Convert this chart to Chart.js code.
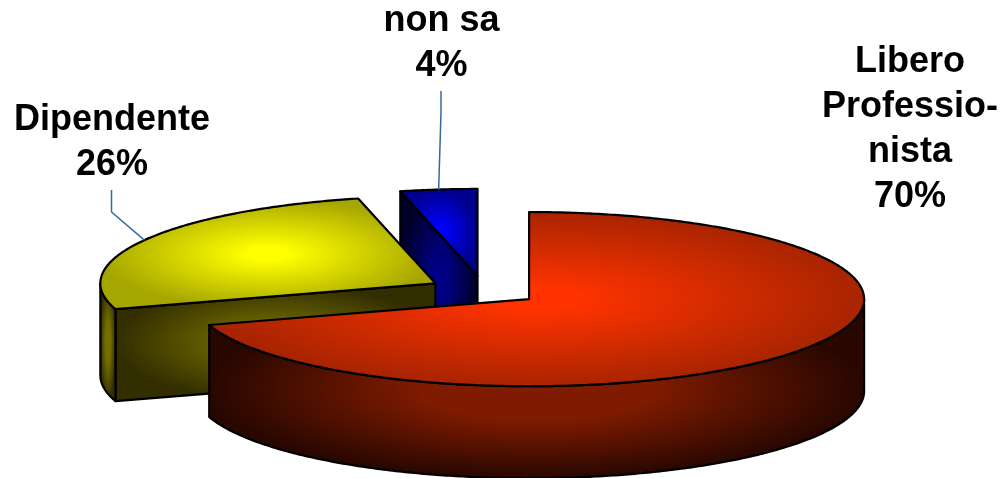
<!DOCTYPE html>
<html>
<head>
<meta charset="utf-8">
<title>Libero Professionista / Dipendente / non sa</title>
<script src="https://cdn.jsdelivr.net/npm/chart.js@4/dist/chart.umd.min.js"></script>
<style>
  html, body { margin: 0; padding: 0; background: #fff; }
  canvas { display: block; }
</style>
</head>
<body>
<canvas id="pie-chart" width="1003" height="478"></canvas>
<script>
// Data (labels round to 70 / 26 / 4)
const categories = ["Libero Professionista", "Dipendente", "non sa"];
const values = [70.2, 26.1, 3.7];
const labelLines = [["Libero", "Professio-", "nista"], ["Dipendente"], ["non sa"]];

// Fake 3D look
const SQUASH = 0.26;     // ellipse height / width
const DEPTH = 92;        // wall height in px
const EXPLODE = 56;      // how far each slice moves out of the centre
const RADIUS = 335;

const palette = [
  { top: ["#ff3300", "#a82400"], wall: ["#7f1b00", "#280700"] },
  { top: ["#ffff00", "#a6a600"], wall: ["#726e00", "#332e00"] },
  { top: ["#0000ff", "#00008c"], wall: ["#000086", "#000028"] },
];

// Where the text goes, and the elbow of the leader lines
const labelPlace = [
  { x: 910, y: 72 },
  { x: 112, y: 130 },
  { x: 441.5, y: 31 },
];
const leaders = [
  null,
  { from: [111.5, 190], elbow: [111.5, 212] },
  { from: [441, 91], elbow: [441, 112] },
];

function boundsOf(points) {
  const xs = points.map((p) => p[0]);
  const ys = points.map((p) => p[1]);
  return {
    left: Math.min(...xs),
    right: Math.max(...xs),
    top: Math.min(...ys),
    bottom: Math.max(...ys),
  };
}

// Elliptical gradient filling the bounding box of a shape, like the old office "path" fill
function fillShape(ctx, points, colors, plateau) {
  const box = boundsOf(points);
  const rx = Math.max((box.right - box.left) / 2, 1);
  const ry = Math.max((box.bottom - box.top) / 2, 1);
  ctx.save();
  ctx.translate((box.left + box.right) / 2, (box.top + box.bottom) / 2);
  ctx.scale(1, ry / rx);
  const gradient = ctx.createRadialGradient(0, 0, 0, 0, 0, rx);
  gradient.addColorStop(0, colors[0]);
  gradient.addColorStop(plateau, colors[0]);
  gradient.addColorStop(1, colors[1]);
  ctx.fillStyle = gradient;
  ctx.fill();
  ctx.restore();
  ctx.stroke();
}

function tracePoints(ctx, points) {
  ctx.beginPath();
  points.forEach((p, i) => (i ? ctx.lineTo(p[0], p[1]) : ctx.moveTo(p[0], p[1])));
  ctx.closePath();
}

function rimPoints(c, r, from, to, dy) {
  const points = [];
  const steps = Math.max(Math.ceil(Math.abs(to - from) / 0.01), 1);
  for (let i = 0; i <= steps; i++) {
    const a = from + ((to - from) * i) / steps;
    points.push([c.x + Math.cos(a) * r, c.y + Math.sin(a) * r * SQUASH + dy]);
  }
  return points;
}

function sliceCentre(arc) {
  const mid = (arc.startAngle + arc.endAngle) / 2;
  return {
    x: arc.x + Math.cos(mid) * EXPLODE,
    y: arc.y + Math.sin(mid) * EXPLODE * SQUASH,
  };
}

function drawSlice(ctx, arc, colors) {
  const c = sliceCentre(arc);
  const r = arc.outerRadius;
  const start = arc.startAngle;
  const end = arc.endAngle;

  // cut faces, only the ones turned to the viewer
  const faces = [];
  if (Math.cos(start) < -1e-6) faces.push(start);
  if (Math.cos(end) > 1e-6) faces.push(end);
  faces.forEach((a) => {
    const edge = rimPoints(c, r, a, a, 0)[0];
    const face = [[c.x, c.y], edge, [edge[0], edge[1] + DEPTH], [c.x, c.y + DEPTH]];
    tracePoints(ctx, face);
    fillShape(ctx, face, colors.wall, 0.2);
  });

  // outer wall, front half of the ellipse only
  const wallFrom = Math.max(start, 0);
  const wallTo = Math.min(end, Math.PI);
  if (wallTo > wallFrom) {
    const wall = rimPoints(c, r, wallFrom, wallTo, 0).concat(
      rimPoints(c, r, wallTo, wallFrom, DEPTH)
    );
    tracePoints(ctx, wall);
    fillShape(ctx, wall, colors.wall, 0.35);
  }

  // top of the slice
  const top = [[c.x, c.y]].concat(rimPoints(c, r, start, end, 0));
  tracePoints(ctx, top);
  fillShape(ctx, top, colors.top, 0.12);
}

const pie3d = {
  id: "pie3d",
  beforeDatasetsDraw(chart) {
    const ctx = chart.ctx;
    const arcs = chart.getDatasetMeta(0).data;

    ctx.save();
    ctx.lineWidth = 2.2;
    ctx.lineJoin = "round";
    ctx.strokeStyle = "#000";

    // back to front
    arcs
      .map((arc, i) => ({ arc, i }))
      .sort((a, b) => sliceCentre(a.arc).y - sliceCentre(b.arc).y)
      .forEach(({ arc, i }) => drawSlice(ctx, arc, palette[i]));

    // leader lines end on the rim at the middle of the slice
    ctx.lineWidth = 1.5;
    ctx.strokeStyle = "#3569a0";
    arcs.forEach((arc, i) => {
      if (!leaders[i]) return;
      const mid = (arc.startAngle + arc.endAngle) / 2;
      const tip = rimPoints(sliceCentre(arc), arc.outerRadius, mid, mid, 0)[0];
      ctx.beginPath();
      ctx.moveTo(leaders[i].from[0], leaders[i].from[1]);
      ctx.lineTo(leaders[i].elbow[0], leaders[i].elbow[1]);
      ctx.lineTo(tip[0], tip[1]);
      ctx.stroke();
    });

    // labels
    ctx.fillStyle = "#000";
    ctx.font = 'bold 36px "Liberation Sans", Arial, sans-serif';
    ctx.textAlign = "center";
    ctx.textBaseline = "alphabetic";
    values.forEach((value, i) => {
      const lines = labelLines[i].concat(Math.round(value) + "%");
      lines.forEach((line, n) => {
        ctx.fillText(line, labelPlace[i].x, labelPlace[i].y + n * 45);
      });
    });

    ctx.restore();
    return false; // slices are already painted
  },
};

new Chart(document.getElementById("pie-chart"), {
  type: "pie",
  data: {
    labels: categories,
    datasets: [
      {
        data: values,
        backgroundColor: palette.map((p) => p.top[0]),
        borderColor: "#000",
      },
    ],
  },
  options: {
    responsive: false,
    animation: false,
    radius: RADIUS,
    layout: { padding: { top: 103, right: 35 } },
    plugins: {
      legend: { display: false },
      tooltip: { enabled: false },
    },
  },
  plugins: [pie3d],
});
</script>
</body>
</html>
